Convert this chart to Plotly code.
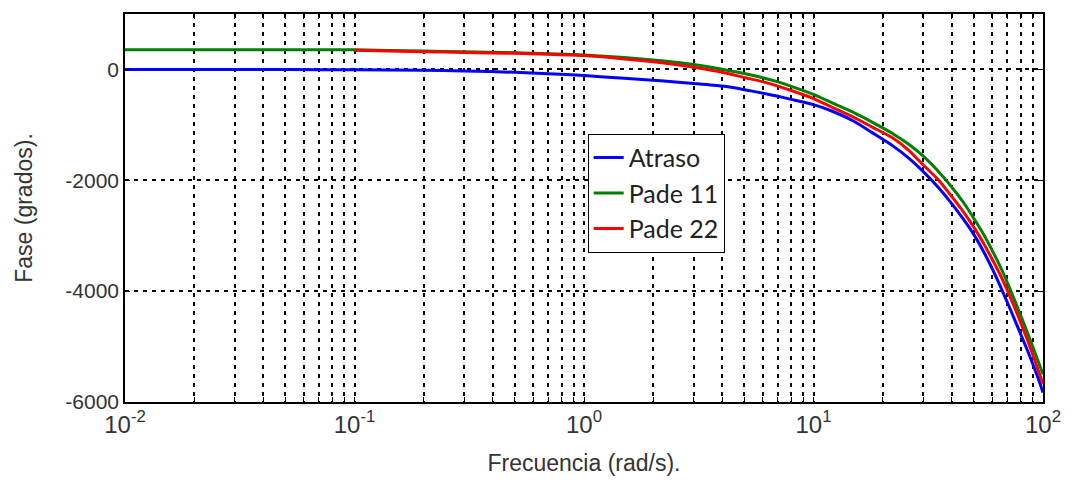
import plotly.graph_objects as go

# Frequency points (rad/s) and phase readings (degrees)
w_atraso = [0.01, 0.02, 0.05, 0.1, 0.2, 0.3, 0.5, 0.7, 1, 1.5, 2, 2.5, 3, 4, 5, 6, 7, 8,
            10, 12, 15, 18, 22, 26, 30, 35, 40, 45, 50, 55, 60, 65, 70, 75, 80, 85, 90, 95, 100]
fase_atraso = [0, -1, -3, -6, -14, -28, -52, -78, -110, -160, -195, -225, -252, -300, -365,
               -428, -485, -540, -635, -750, -935, -1140, -1370, -1600, -1840, -2130, -2420,
               -2700, -2980, -3280, -3590, -3900, -4210, -4500, -4780, -5040, -5300, -5560, -5830]

w_pade11 = [0.01, 0.02, 0.05, 0.1, 0.2, 0.3, 0.5, 0.7, 1, 1.5, 2, 2.5, 3, 4, 5, 6, 7, 8,
            10, 12, 15, 18, 22, 26, 30, 35, 40, 45, 50, 55, 60, 65, 70, 75, 80, 85, 90, 95, 100]
fase_pade11 = [355, 355, 355, 353, 332, 318, 302, 285, 262, 215, 170, 129, 88, 5, -75,
               -150, -225, -305, -450, -600, -780, -950, -1150, -1350, -1560, -1840, -2120,
               -2400, -2690, -2970, -3260, -3550, -3850, -4150, -4440, -4720, -4990, -5250, -5500]

w_pade22 = [0.1, 0.2, 0.3, 0.5, 0.7, 1, 1.5, 2, 2.5, 3, 4, 5, 6, 7, 8,
            10, 12, 15, 18, 22, 26, 30, 35, 40, 45, 50, 55, 60, 65, 70, 75, 80, 85, 90, 95, 100]
fase_pade22 = [345, 320, 305, 290, 272, 250, 190, 140, 90, 40, -50, -145, -220, -300, -380,
               -525, -680, -865, -1040, -1230, -1460, -1720, -1990, -2290, -2570, -2850,
               -3130, -3420, -3700, -3990, -4280, -4570, -4850, -5130, -5410, -5680]

series = [
    ("Atraso", w_atraso, fase_atraso, "#0000FF"),
    ("Pade 11", w_pade11, fase_pade11, "#008000"),
    ("Pade 22", w_pade22, fase_pade22, "#FF0000"),
]

y_ticks = [-6000, -4000, -2000, 0]
y_ticktext = ["-6000", "-4000", "-2000", "0"]

# log-axis ticks: every 1..9 multiple per decade, labels only on decades
decades = [-2, -1, 0, 1]
x_ticks, x_ticktext = [], []
for d in decades:
    for m in range(1, 10):
        x_ticks.append(m * 10.0 ** d)
        x_ticktext.append(f"10<sup>{d}</sup>" if m == 1 else "")
x_ticks.append(100.0)
x_ticktext.append("10<sup>2</sup>")

fig = go.Figure()
for name, w, ph, col in series:
    fig.add_trace(go.Scatter(
        x=w, y=ph, mode="lines", name=name, legendgroup=name,
        line=dict(color=col, width=3, shape="spline", smoothing=0.6),
    ))

sans = "Liberation Sans, Arial, sans-serif"
grid_style = dict(showgrid=True, gridcolor="black", gridwidth=1.8, griddash="4px,5px")
frame_style = dict(showline=True, linecolor="black", linewidth=1.5, mirror="ticks",
                   ticks="inside", ticklen=5, tickcolor="black", zeroline=False)

fig.update_layout(
    width=1073, height=484,
    margin=dict(l=125, r=23, t=14, b=81),
    paper_bgcolor="white", plot_bgcolor="white",
    showlegend=True,
    legend=dict(
        x=0.504, y=0.6915, xanchor="left", yanchor="top",
        bgcolor="white", bordercolor="black", borderwidth=1,
        font=dict(family="Lato, Open Sans, sans-serif", size=25, color="#222222"),
        tracegroupgap=7, traceorder="normal",
    ),
    xaxis=dict(
        type="log", range=[-2, 2],
        tickmode="array", tickvals=x_ticks, ticktext=x_ticktext,
        tickfont=dict(family=sans, size=24, color="#333333"),
        **grid_style, **frame_style,
        title=dict(text="Frecuencia (rad/s).", font=dict(family=sans, size=23, color="#333333"),
                   standoff=18),
    ),
    yaxis=dict(
        range=[-6000, 1000],
        tickmode="array", tickvals=y_ticks, ticktext=y_ticktext,
        tickfont=dict(family=sans, size=21, color="#333333"),
        **grid_style, **frame_style,
        title=dict(text="Fase (grados).", font=dict(family=sans, size=23, color="#333333"),
                   standoff=26),
    ),
)

fig.write_html("out.html")
